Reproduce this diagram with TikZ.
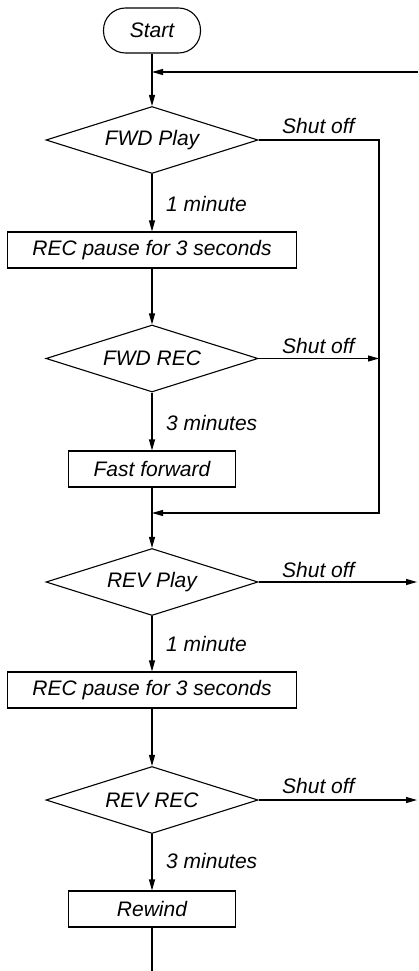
\documentclass[tikz,border=0pt]{standalone}
\usepackage{fontspec}
\setmainfont{Liberation Sans}
\usetikzlibrary{shapes.geometric,arrows.meta}
\tikzset{
  flow/.style={line width=1.1pt},
  link/.style={flow,-{Triangle[length=11pt,width=6pt]}},
  term/.style={draw,flow,rectangle,rounded corners=22pt,minimum width=97pt,minimum height=45pt,inner sep=0pt},
  process/.style={draw,flow,rectangle,minimum height=36pt,inner sep=0pt},
  decision/.style={draw,flow,diamond,aspect=3.16,minimum width=212pt,minimum height=67pt,inner sep=0pt},
  note/.style={inner sep=0pt,anchor=base west}
}
\begin{document}
\begin{tikzpicture}[x=1pt,y=-1pt,font=\fontsize{21}{25}\selectfont\itshape]
  \useasboundingbox (0,0) rectangle (418,971);
  \node[term] (start) at (152,30.5) {Start};
  \node[decision] (fwdplay) at (152,140) {FWD Play};
  \node[process,minimum width=289pt] (fwdpause) at (152,250) {REC pause for 3 seconds};
  \node[decision] (fwdrec) at (152,358.5) {FWD REC};
  \node[process,minimum width=167pt] (ffwd) at (152,469) {Fast forward};
  \node[decision] (revplay) at (152,582) {REV Play};
  \node[process,minimum width=289pt] (revpause) at (152,690) {REC pause for 3 seconds};
  \node[decision] (revrec) at (152,800) {REV REC};
  \node[process,minimum width=167pt] (rewind) at (152,909) {Rewind};
  \node[note] (fwdplayoff) at (282,133) {Shut off};
  \node[note] (fwdrecoff) at (282,353) {Shut off};
  \node[note] (revplayoff) at (282,577) {Shut off};
  \node[note] (revrecoff) at (282,793) {Shut off};
  \node[note] (fwdplaytime) at (166,211) {1 minute};
  \node[note] (fwdrectime) at (166,430) {3 minutes};
  \node[note] (revplaytime) at (166,651) {1 minute};
  \node[note] (revrectime) at (166,868) {3 minutes};
  \coordinate (topjoin) at (152,72);
  \coordinate (topin) at (418,72);
  \coordinate (fwdjoin) at (152,513);
  \coordinate (bypass) at (379,513);
  \coordinate (revplayout) at (417,582);
  \coordinate (revrecout) at (417,800);
  \coordinate (tail) at (152,971);
  \draw[flow] (start) -- (topjoin);
  \draw[link] (topin) -- (topjoin);
  \draw[link] (topjoin) -- (fwdplay);
  \draw[link] (fwdplay) -- (fwdpause);
  \draw[link] (fwdpause) -- (fwdrec);
  \draw[link] (fwdrec) -- (ffwd);
  \draw[flow] (ffwd) -- (fwdjoin);
  \draw[link] (fwdplay.east) -| (bypass) -- (fwdjoin);
  \draw[link] (fwdrec.east) -- (fwdrec.east -| bypass);
  \draw[link] (fwdjoin) -- (revplay);
  \draw[link] (revplay) -- (revpause);
  \draw[link] (revpause) -- (revrec);
  \draw[link] (revrec) -- (rewind);
  \draw[flow] (rewind) -- (tail);
  \draw[link] (revplay.east) -- (revplayout);
  \draw[link] (revrec.east) -- (revrecout);
\end{tikzpicture}
\end{document}
